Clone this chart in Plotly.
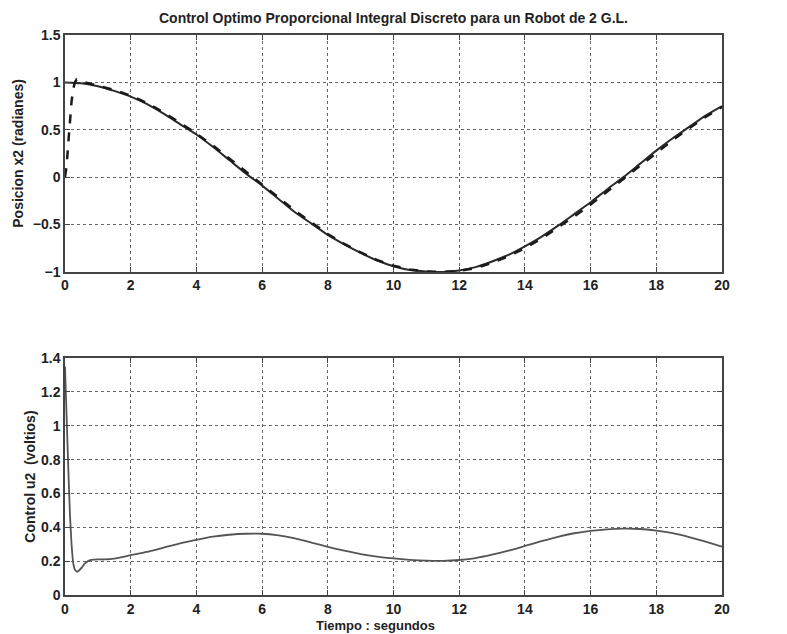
import plotly.graph_objects as go

# ---- data ----
t_ref = [0, 0.5, 1, 1.5, 2, 2.5, 3, 3.5, 4, 4.5, 5, 5.5, 6, 6.5, 7, 7.5, 8, 8.5, 9, 9.5,
         10, 10.5, 11, 11.5, 12, 12.5, 13, 13.5, 14, 14.5, 15, 15.5, 16, 16.5, 17, 17.5,
         18, 18.5, 19, 19.5, 20]
x2_ref = [1.00, 0.99, 0.96, 0.91, 0.85, 0.77, 0.67, 0.56, 0.45, 0.32, 0.18, 0.04, -0.09,
          -0.23, -0.37, -0.49, -0.61, -0.71, -0.80, -0.88, -0.94, -0.98, -0.995, -1.00,
          -0.985, -0.95, -0.89, -0.82, -0.73, -0.63, -0.515, -0.39, -0.265, -0.13, 0.0,
          0.14, 0.28, 0.41, 0.53, 0.65, 0.75]

t_out = [0, 0.05, 0.1, 0.15, 0.2, 0.25, 0.3, 0.35, 0.5, 1, 1.5, 2, 2.5, 3, 3.5, 4, 4.5, 5,
         5.5, 6, 6.5, 7, 7.5, 8, 8.5, 9, 9.5, 10, 10.5, 11, 11.5, 12, 12.5, 13, 13.5, 14,
         14.5, 15, 15.5, 16, 16.5, 17, 17.5, 18, 18.5, 19, 19.5, 20]
x2_out = [0.00, 0.12, 0.36, 0.60, 0.80, 0.93, 1.00, 1.03, 1.01, 0.965, 0.92, 0.86, 0.78,
          0.685, 0.575, 0.46, 0.335, 0.20, 0.06, -0.075, -0.215, -0.355, -0.48, -0.60,
          -0.705, -0.795, -0.875, -0.935, -0.975, -0.995, -1.00, -0.99, -0.96, -0.905,
          -0.835, -0.75, -0.65, -0.535, -0.415, -0.29, -0.155, -0.02, 0.12, 0.26, 0.39,
          0.515, 0.635, 0.74]

t_u = [0, 0.05, 0.1, 0.15, 0.2, 0.25, 0.3, 0.35, 0.4, 0.5, 0.6, 0.7, 0.8, 1.0, 1.2, 1.5,
       2, 2.5, 3, 3.5, 4, 4.5, 5, 5.5, 6, 6.5, 7, 7.5, 8, 8.5, 9, 9.5, 10, 10.5, 11, 11.5,
       12, 12.5, 13, 13.5, 14, 14.5, 15, 15.5, 16, 16.5, 17, 17.5, 18, 18.5, 19, 19.5, 20]
u2 = [1.35, 1.05, 0.75, 0.48, 0.30, 0.19, 0.15, 0.14, 0.14, 0.16, 0.185, 0.20, 0.207,
      0.21, 0.21, 0.215, 0.235, 0.255, 0.28, 0.305, 0.326, 0.345, 0.356, 0.362, 0.362,
      0.352, 0.334, 0.31, 0.285, 0.262, 0.242, 0.227, 0.216, 0.208, 0.203, 0.202, 0.207,
      0.218, 0.238, 0.262, 0.29, 0.318, 0.344, 0.365, 0.379, 0.388, 0.392, 0.39, 0.38,
      0.365, 0.342, 0.315, 0.286]

x_ticks = [0, 2, 4, 6, 8, 10, 12, 14, 16, 18, 20]
y1_ticks = [-1, -0.5, 0, 0.5, 1, 1.5]
y2_ticks = [0, 0.2, 0.4, 0.6, 0.8, 1.0, 1.2, 1.4]
y2_labels = ["0", "0.2", "0.4", "0.6", "0.8", "1", "1.2", "1.4"]

FONT = "Liberation Sans"
fig = go.Figure()
fig.add_trace(go.Scatter(x=t_ref, y=x2_ref, mode="lines", xaxis="x", yaxis="y",
                         line=dict(color="#2a2a2a", width=2, shape="spline", smoothing=0.6),
                         showlegend=False))
fig.add_trace(go.Scatter(x=t_out, y=x2_out, mode="lines", xaxis="x", yaxis="y",
                         line=dict(color="#1a1a1a", width=2.5, dash="dash"), showlegend=False))
fig.add_trace(go.Scatter(x=t_u, y=u2, mode="lines", xaxis="x2", yaxis="y2",
                         line=dict(color="#555555", width=1.8, shape="spline", smoothing=0.5),
                         showlegend=False))

axis_common = dict(showline=True, linecolor="#444", linewidth=1.5, mirror="ticks",
                   ticks="inside", ticklen=5, tickcolor="#444",
                   showgrid=True, gridcolor="#666", griddash="dot", gridwidth=1,
                   zeroline=False,
                   tickfont=dict(family=FONT, size=14, color="#222", weight="bold"))

fig.update_layout(
    width=787, height=634,
    margin=dict(l=65, r=65, t=35, b=39),
    paper_bgcolor="white", plot_bgcolor="white",
    title=dict(text="Control Optimo Proporcional Integral Discreto para un Robot de 2 G.L.",
               x=0.5, xanchor="center", y=0.972, yanchor="middle",
               font=dict(family=FONT, size=14, color="#222", weight="bold")),
    xaxis=dict(domain=[0, 1], range=[0, 20], tickvals=x_ticks, anchor="y", **axis_common),
    yaxis=dict(domain=[0.577, 1.0], range=[-1, 1.5], tickvals=y1_ticks, anchor="x",
               title=dict(text="Posicion x2 (radianes)", standoff=6,
                          font=dict(family=FONT, size=14, color="#222", weight="bold")),
               **axis_common),
    xaxis2=dict(domain=[0, 1], range=[0, 20], tickvals=x_ticks, anchor="y2", **axis_common),
    yaxis2=dict(domain=[0, 0.423], range=[0, 1.4], tickvals=y2_ticks, ticktext=y2_labels,
                anchor="x2",
                title=dict(text="Control u2  (voltios)", standoff=2,
                           font=dict(family=FONT, size=14, color="#222", weight="bold")),
                **axis_common),
    annotations=[dict(text="Tiempo : segundos", xref="paper", yref="paper",
                      x=0.472, y=-0.055, xanchor="center", yanchor="middle",
                      showarrow=False,
                      font=dict(family=FONT, size=13, color="#222", weight="bold"))],
)

fig.write_html("out.html")
